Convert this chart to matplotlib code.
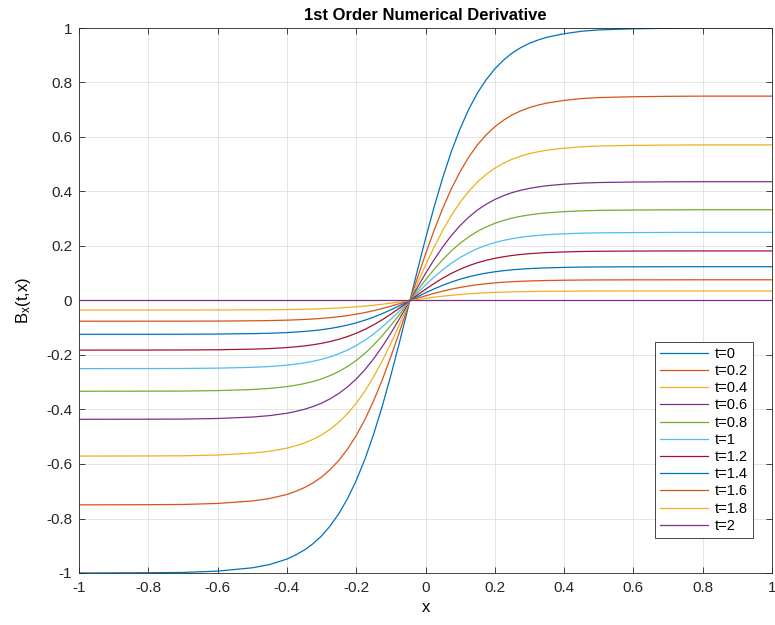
import matplotlib
matplotlib.use("Agg")
import matplotlib.pyplot as plt
from matplotlib.ticker import FuncFormatter
import numpy as np

plt.rcParams.update({
    'font.family': ['Liberation Sans', 'DejaVu Sans'],
    'mathtext.default': 'regular',
    'axes.unicode_minus': False,
    'axes.linewidth': 0.6,
    'axes.edgecolor': '#262626',
    'xtick.direction': 'in',
    'ytick.direction': 'in',
    'xtick.top': True,
    'ytick.right': True,
    'xtick.labelsize': 11,
    'ytick.labelsize': 11,
})

# ---------------- data ----------------
t_labels = ["t=0", "t=0.2", "t=0.4", "t=0.6", "t=0.8", "t=1",
            "t=1.2", "t=1.4", "t=1.6", "t=1.8", "t=2"]
# plateau height of each curve
plateau = [1.0, 0.750, 0.571, 0.436, 0.333, 0.250, 0.182, 0.124, 0.076, 0.035, 0.0]

# shape of the t=0 curve, sampled along x
x_pts = [-1.0, -0.8, -0.7, -0.6, -0.5, -0.45, -0.4, -0.375, -0.35, -0.325, -0.3,
         -0.275, -0.25, -0.225, -0.2, -0.175, -0.15, -0.125, -0.1, -0.075, -0.05,
         -0.025, 0.0, 0.025, 0.05, 0.075, 0.1, 0.125, 0.15, 0.175, 0.2, 0.225,
         0.25, 0.275, 0.3, 0.325, 0.35, 0.4, 0.45, 0.5, 0.6, 0.7, 0.8, 1.0]
shape = [-1.000, -0.999, -0.998, -0.993, -0.981, -0.969, -0.949, -0.934, -0.916, -0.893, -0.864,
         -0.827, -0.782, -0.727, -0.661, -0.583, -0.492, -0.389, -0.275, -0.153, -0.026,
         0.102, 0.227, 0.344, 0.452, 0.548, 0.631, 0.702, 0.762, 0.810, 0.850, 0.882,
         0.908, 0.928, 0.944, 0.956, 0.966, 0.979, 0.988, 0.993, 0.997, 0.999, 1.000, 1.000]

colors = ['#0072BD', '#D95319', '#EDB120', '#7E2F8E', '#77AC30', '#4DBEEE', '#A2142F']

# ---------------- plot ----------------
fig = plt.figure(figsize=(7.75, 6.25), dpi=100)
ax = fig.add_axes([79 / 775, 1 - 573 / 625, (772 - 79) / 775, (573 - 28) / 625])

xs = np.array(x_pts)
prof = np.array(shape)
for i, (lab, a) in enumerate(zip(t_labels, plateau)):
    ax.plot(xs, a * prof, color=colors[i % len(colors)], lw=0.9, label=lab)

ax.set_xlim(-1, 1)
ax.set_ylim(-1, 1)
ticks = np.round(np.arange(-1, 1.01, 0.2), 1)
ax.set_xticks(ticks)
ax.set_yticks(ticks)
fmt = FuncFormatter(lambda v, p: '%g' % (round(v, 1) + 0.0))
ax.xaxis.set_major_formatter(fmt)
ax.yaxis.set_major_formatter(fmt)
ax.tick_params(length=4, width=0.6, color='#262626', labelcolor='#262626')
ax.tick_params(axis='x', pad=6)
ax.tick_params(axis='y', pad=5)
ax.grid(True, color='#e0e0e0', lw=0.6)
ax.set_axisbelow(True)

ax.set_title("1st Order Numerical Derivative", fontsize=12, fontweight='bold', pad=6)
ax.set_xlabel("x", fontsize=12, labelpad=3)
ax.set_ylabel(r"B$_x$(t,x)", fontsize=12, labelpad=9)

leg = ax.legend(loc='lower right', bbox_to_anchor=((753 - 79) / 693, (573 - 538) / 545),
                borderaxespad=0, fontsize=10.5, labelspacing=0.22, handlelength=3.3,
                handletextpad=0.45, borderpad=0.35, fancybox=False, framealpha=1)
leg.get_frame().set_edgecolor('#262626')
leg.get_frame().set_linewidth(0.6)

fig.savefig("out.png", dpi=100)
